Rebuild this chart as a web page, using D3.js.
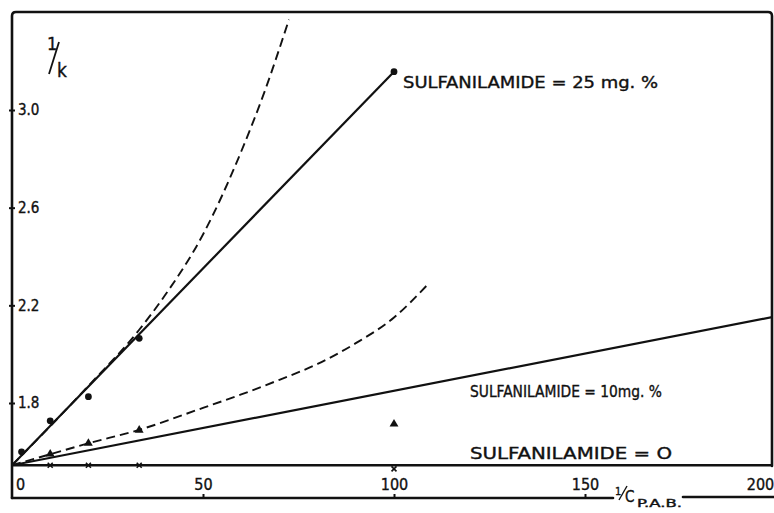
<!DOCTYPE html>
<html>
<head>
<meta charset="utf-8">
<script src="https://cdn.jsdelivr.net/npm/d3@7"></script>
<style>
  html, body { margin: 0; padding: 0; background: #fff; }
  svg { display: block; }
  text { font-family: "DejaVu Sans Condensed", "DejaVu Sans", sans-serif; fill: #111; stroke: #111; stroke-width: 0.35; }
</style>
</head>
<body>
<svg id="chart" width="774" height="513"></svg>
<script>
// ---- data ----
const xTicks = [0, 50, 100, 150, 200];
const yTicks = [1.8, 2.2, 2.6, 3.0];

// Sulfanilamide = 25 mg.% : observed points
const obs25X = [2.5, 10, 20, 33.3, 100];
const obs25Y = [1.60, 1.727, 1.826, 2.065, 3.157];
// Sulfanilamide = 10 mg.% : observed points
const obs10X = [10, 20, 33.3, 100];
const obs10Y = [1.591, 1.635, 1.689, 1.714];
// Sulfanilamide = 0 : observed points
const obs0X = [10, 20, 33.3, 100];
const obs0Y = [1.545, 1.545, 1.545, 1.53];

// solid straight lines
const line25X = [0, 100];
const line25Y = [1.545, 3.157];
const line10X = [0, 200];
const line10Y = [1.545, 2.155];
const line0X = [0, 200];
const line0Y = [1.545, 1.545];

// dashed curves
const dash25X = [0, 10, 20, 33.3, 40, 50, 60, 66, 72.5];
const dash25Y = [1.545, 1.705, 1.87, 2.10, 2.24, 2.49, 2.83, 3.07, 3.37];
const dash10X = [0, 10, 20, 33.3, 50, 60, 70, 80, 90, 100, 108.5];
const dash10Y = [1.545, 1.59, 1.635, 1.69, 1.78, 1.835, 1.895, 1.96, 2.045, 2.15, 2.28];

const labels = {
  s25: "SULFANILAMIDE = 25 mg. %",
  s10: "SULFANILAMIDE = 10mg. %",
  s0: "SULFANILAMIDE = O"
};

// ---- layout ----
const svg = d3.select("#chart");
const ink = "#111";
const x = d3.scaleLinear().domain([0, 200]).range([12, 776]);
const y = d3.scaleLinear().domain([1.8, 3.0]).range([403, 110]);

const zip = (xs, ys) => xs.map((v, i) => [v, ys[i]]);

svg.append("defs").append("clipPath").attr("id", "plotclip")
  .append("rect").attr("x", 12).attr("y", 12).attr("width", 760).attr("height", 486);

// frame
const frame = svg.append("g").attr("stroke", ink).attr("stroke-width", 2.6).attr("fill", "none")
  .attr("stroke-linecap", "round");
frame.append("path").attr("d", "M12,498 L12,16 Q12,12 16,12 L768,12 Q772,12 772,16 L772,466");
frame.append("path").attr("d", "M12,498 L613,498");
frame.append("path").attr("d", "M683,497 L774,497");

const plot = svg.append("g").attr("clip-path", "url(#plotclip)");
const lineGen = d3.line().x(d => x(d[0])).y(d => y(d[1]));
const curveGen = d3.line().x(d => x(d[0])).y(d => y(d[1])).curve(d3.curveMonotoneX);

// solid lines
[[line25X, line25Y], [line10X, line10Y]].forEach(([xs, ys]) => {
  plot.append("path").datum(zip(xs, ys)).attr("d", lineGen)
    .attr("fill", "none").attr("stroke", ink).attr("stroke-width", 2.2);
});
plot.append("path").datum(zip(line0X, line0Y)).attr("d", lineGen)
  .attr("fill", "none").attr("stroke", ink).attr("stroke-width", 2.4);

// dashed curves
[[dash25X, dash25Y], [dash10X, dash10Y]].forEach(([xs, ys]) => {
  plot.append("path").datum(zip(xs, ys)).attr("d", curveGen)
    .attr("fill", "none").attr("stroke", ink).attr("stroke-width", 1.9)
    .attr("stroke-dasharray", "9,5");
});

// markers
plot.selectAll("circle.p25").data(zip(obs25X, obs25Y)).join("circle")
  .attr("class", "p25").attr("cx", d => x(d[0])).attr("cy", d => y(d[1])).attr("r", 3.4).attr("fill", ink);
const tri = d3.symbol().type(d3.symbolTriangle).size(34);
plot.selectAll("path.p10").data(zip(obs10X, obs10Y)).join("path")
  .attr("class", "p10").attr("d", tri).attr("fill", ink)
  .attr("transform", d => `translate(${x(d[0])},${y(d[1])})`);
const crossType = d3.symbolTimes || d3.symbolCross;
const cross = d3.symbol().type(crossType).size(18);
plot.selectAll("path.p0").data(zip(obs0X, obs0Y)).join("path")
  .attr("class", "p0").attr("d", cross).attr("fill", ink).attr("stroke", ink).attr("stroke-width", 1.6)
  .attr("transform", d => `translate(${x(d[0])},${y(d[1])})`);

// y axis (ticks on the left frame line, labels inside)
const yAxis = svg.append("g").attr("transform", "translate(12,0)")
  .call(d3.axisRight(y).tickValues(yTicks).tickFormat(d3.format(".1f")).tickSize(3).tickPadding(4));
yAxis.select(".domain").remove();
yAxis.selectAll(".tick line").attr("x1", -3).attr("x2", 3).attr("stroke", ink).attr("stroke-width", 2);
yAxis.selectAll(".tick text").attr("font-family", null).attr("font-size", 15)
  .attr("fill", ink).attr("x", 6);

// x axis (ticks on the bottom frame line, labels above it)
const xAxis = svg.append("g").attr("transform", "translate(0,498)")
  .call(d3.axisTop(x).tickValues(xTicks).tickFormat(d3.format("d")).tickSize(4).tickPadding(2));
xAxis.select(".domain").remove();
xAxis.selectAll(".tick line").attr("stroke", ink).attr("stroke-width", 2)
  .attr("display", d => (d === 0 || d === 200) ? "none" : null);
xAxis.selectAll(".tick text").attr("font-family", null).attr("font-size", 16)
  .attr("fill", ink).attr("dy", "-0.1em")
  .attr("dx", d => d === 0 ? 8 : (d === 200 ? -16 : 0));

// axis titles
const yt = svg.append("g");
yt.append("text").attr("x", 47).attr("y", 50).attr("font-size", 18).text("1");
yt.append("line").attr("x1", 49).attr("y1", 74).attr("x2", 59).attr("y2", 42)
  .attr("stroke", ink).attr("stroke-width", 1.8);
yt.append("text").attr("x", 57).attr("y", 77).attr("font-size", 19).text("k");

const xt = svg.append("g");
xt.append("text").attr("x", 615).attr("y", 495).attr("font-size", 11).text("1");
xt.append("line").attr("x1", 619).attr("y1", 500).attr("x2", 627).attr("y2", 486)
  .attr("stroke", ink).attr("stroke-width", 1.4);
xt.append("text").attr("x", 625).attr("y", 502).attr("font-size", 15).text("C");
xt.append("text").attr("x", 637).attr("y", 507).attr("font-size", 10.5)
  .attr("textLength", 45).attr("lengthAdjust", "spacingAndGlyphs").text("P.A.B.");

// series labels
svg.append("text").attr("x", 403).attr("y", 88).attr("font-size", 16)
  .attr("textLength", 255).attr("lengthAdjust", "spacingAndGlyphs").text(labels.s25);
svg.append("text").attr("x", 470).attr("y", 397).attr("font-size", 16)
  .attr("textLength", 192).attr("lengthAdjust", "spacingAndGlyphs").text(labels.s10);
svg.append("text").attr("x", 470).attr("y", 459).attr("font-size", 16)
  .attr("textLength", 202).attr("lengthAdjust", "spacingAndGlyphs").text(labels.s0);
</script>
</body>
</html>
